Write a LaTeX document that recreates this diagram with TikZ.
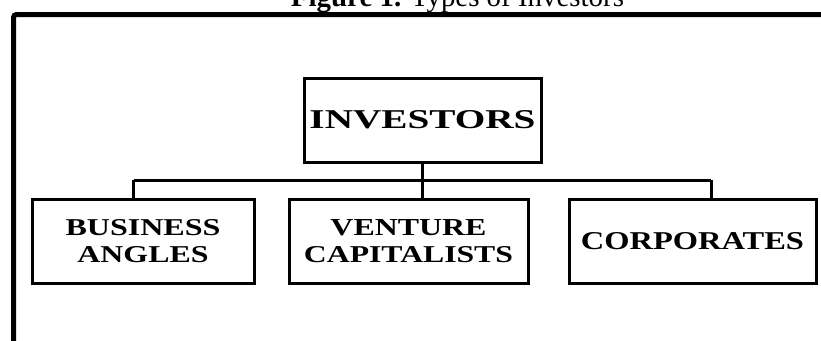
\documentclass[tikz,border=0pt]{standalone}
\usepackage{fontspec}
\setmainfont{Liberation Serif}
\usepackage{graphicx}
\newcommand{\fitline}[3]{\resizebox{#1pt}{#2pt}{\bfseries #3}}
\begin{document}
\begin{tikzpicture}[x=1pt,y=-1pt,
  box/.style={draw=black,line width=3pt,rectangle,inner sep=0pt,minimum height=84pt,align=center,font=\fontsize{10}{27}\selectfont},
  conn/.style={draw=black,line width=3pt}]
\path[use as bounding box] (0,0) rectangle (821,340);
% frame
\draw[line width=5pt,rounded corners=3pt] (13.5,345) -- (13.5,14.5) -- (830,14.5);
% title
\node[anchor=base,inner sep=0pt] (title) at (457.5,6) {\resizebox{333pt}{!}{\textbf{Figure 1.} Types of Investors}};
% nodes
\node[box,minimum width=237pt] (inv) at (422.5,120) {\raisebox{2pt}{\fitline{226}{18}{INVESTORS}}};
\node[box,minimum width=222pt] (ba) at (143,241) {\fitline{155}{16}{BUSINESS}\\\fitline{131}{16}{ANGLES}};
\node[box,minimum width=239pt] (vc) at (408.5,241) {\fitline{156}{16}{VENTURE}\\\fitline{209}{16}{CAPITALISTS}};
\node[box,minimum width=247pt] (co) at (692.5,241) {\fitline{223}{17}{CORPORATES}};
% connectors
\coordinate (busL) at (133.5,180);
\coordinate (busR) at (711,180);
\coordinate (busM) at (inv.south |- busL);
\draw[conn] (inv.south) -- (busM);
\draw[conn] (busL) -- (busR);
\draw[conn] (busL) -- (busL |- ba.north);
\draw[conn] (busM) -- (busM |- vc.north);
\draw[conn] (busR) -- (busR |- co.north);
\end{tikzpicture}
\end{document}
